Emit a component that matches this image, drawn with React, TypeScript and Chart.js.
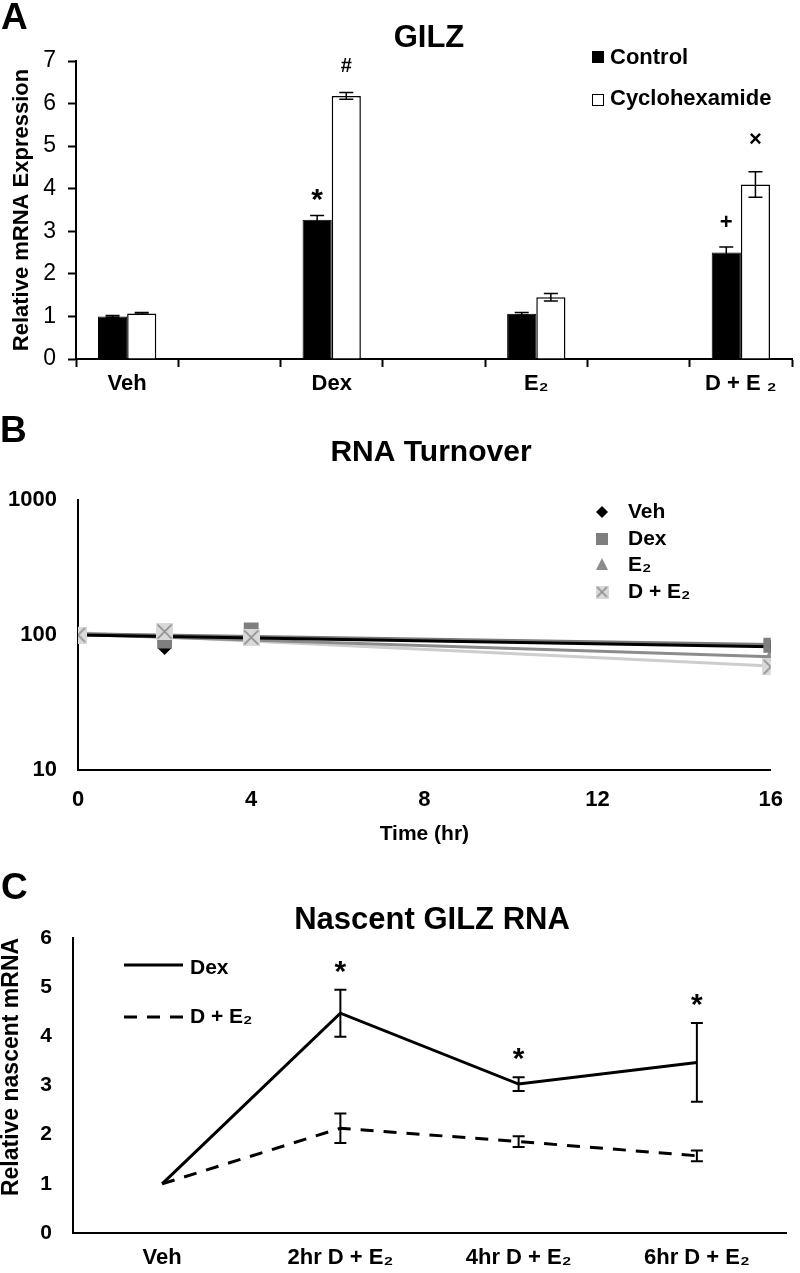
import React, { useEffect, useRef } from 'react';
import { Chart, registerables } from 'chart.js';

Chart.register(...registerables);

const FONT = '"Liberation Sans", Arial, Helvetica, sans-serif';
Chart.defaults.font.family = FONT;
Chart.defaults.color = '#000';

// ---------------- Panel A: GILZ ----------------
const gilzCategories = ['Veh', '', 'Dex', '', 'E₂', '', 'D + E ₂'];
const gilzSeriesNames = ['Control', 'Cyclohexamide'];
const gilzControl = [1.0, null, 3.27, null, 1.06, null, 2.5];
const gilzControlErr = [0.02, null, 0.1, null, 0.03, null, 0.13];
const gilzCyclo = [1.07, null, 6.18, null, 1.45, null, 4.1];
const gilzCycloErr = [0.02, null, 0.08, null, 0.09, null, 0.3];
const gilzControlMarks = ['', '', '*', '', '', '', '+'];
const gilzCycloMarks = ['', '', '#', '', '', '', '×'];
const gilzYRange = [0, 7];

// ---------------- Panel B: RNA Turnover ----------------
const turnoverSeriesNames = ['Veh', 'Dex', 'E₂', 'D + E₂'];
const turnoverTimes = [0, 2, 4, 16];
const turnoverVeh = [100, 80, 97, 82];
const turnoverDex = [100, 90, 109, 84];
const turnoverE2 = [100, 97, 98, 68];
const turnoverDE2 = [100, 106, 96, 58];
const fitTimes = [0, 16];
const fitVeh = [100, 82];
const fitDex = [102, 85];
const fitE2 = [101, 69];
const fitDE2 = [104, 59];
const turnoverYTicks = [10, 100, 1000];
const turnoverXRange = [0, 16];

// ---------------- Panel C: Nascent GILZ RNA ----------------
const nascentCategories = ['Veh', '2hr D + E₂', '4hr D + E₂', '6hr D + E₂'];
const nascentSeriesNames = ['Dex', 'D + E₂'];
const nascentDex = [1.0, 4.47, 3.03, 3.47];
const nascentDexErr = [null, 0.48, 0.14, 0.8];
const nascentDE2 = [1.0, 2.13, 1.86, 1.57];
const nascentDE2Err = [null, 0.3, 0.11, 0.11];
const nascentDexMarks = ['', '*', '*', '*'];
const nascentYRange = [0, 6];

// ---------------- helpers ----------------
const f = (size: number, bold = true) => `${bold ? 'bold ' : ''}${size}px ${FONT}`;

function text(ctx: CanvasRenderingContext2D, s: string, x: number, y: number, font: string, align: CanvasTextAlign = 'left', rot = 0) {
  ctx.save();
  ctx.font = font;
  ctx.fillStyle = '#000';
  ctx.textAlign = align;
  ctx.textBaseline = 'middle';
  ctx.translate(x, y);
  if (rot) ctx.rotate(rot);
  ctx.fillText(s, 0, 0);
  ctx.restore();
}

function makeErrorPlugin(capHalf: number, lineWidth: number, both: boolean) {
  return {
    id: 'errorBars',
    afterDatasetsDraw(chart: any) {
      const ctx = chart.ctx;
      const yScale = chart.scales.y;
      chart.data.datasets.forEach((ds: any, di: number) => {
        if (!ds.errors) return;
        const meta = chart.getDatasetMeta(di);
        ctx.save();
        ctx.strokeStyle = '#000';
        ctx.lineWidth = lineWidth;
        meta.data.forEach((el: any, i: number) => {
          const v = ds.data[i];
          const e = ds.errors[i];
          if (v == null || e == null) return;
          const x = el.x;
          const yt = yScale.getPixelForValue(v + e);
          const yb = both ? yScale.getPixelForValue(v - e) : el.y;
          ctx.beginPath();
          ctx.moveTo(x, yt);
          ctx.lineTo(x, yb);
          ctx.moveTo(x - capHalf, yt);
          ctx.lineTo(x + capHalf, yt);
          if (both) {
            ctx.moveTo(x - capHalf, yb);
            ctx.lineTo(x + capHalf, yb);
          }
          ctx.stroke();
        });
        ctx.restore();
      });
    },
  };
}

function makeMarkPlugin(styles: Record<string, { size: number; gap: number }>) {
  return {
    id: 'sigMarks',
    afterDatasetsDraw(chart: any) {
      const ctx = chart.ctx;
      const yScale = chart.scales.y;
      chart.data.datasets.forEach((ds: any, di: number) => {
        if (!ds.marks) return;
        const meta = chart.getDatasetMeta(di);
        meta.data.forEach((el: any, i: number) => {
          const m = ds.marks[i];
          const v = ds.data[i];
          if (!m || v == null) return;
          const e = ds.errors && ds.errors[i] != null ? ds.errors[i] : 0;
          const st = styles[m];
          const y = yScale.getPixelForValue(v + e) - st.gap;
          text(ctx, m, el.x, y, f(st.size), 'center');
        });
      });
    },
  };
}

function makeXBox(size: number) {
  const c = document.createElement('canvas');
  c.width = size;
  c.height = size;
  const g = c.getContext('2d')!;
  g.fillStyle = '#d9d9d9';
  g.fillRect(0, 0, size, size);
  g.strokeStyle = '#8a8a8a';
  g.lineWidth = 1.6;
  g.beginPath();
  g.moveTo(1.5, 1.5);
  g.lineTo(size - 1.5, size - 1.5);
  g.moveTo(size - 1.5, 1.5);
  g.lineTo(1.5, size - 1.5);
  g.stroke();
  return c;
}

// ---------------- Chart configs ----------------
function makeA(): any {
  const overlay = {
    id: 'overlayA',
    afterDraw(chart: any) {
      const ctx = chart.ctx;
      text(ctx, 'A', 1, 19, f(37));
      text(ctx, 'GILZ', 429, 38, f(31), 'center');
      ctx.save();
      ctx.fillStyle = '#000';
      ctx.fillRect(592, 51, 12, 12);
      ctx.strokeStyle = '#000';
      ctx.lineWidth = 1;
      ctx.strokeRect(592.5, 94.5, 11, 11);
      ctx.restore();
      text(ctx, gilzSeriesNames[0], 610, 58, f(22));
      text(ctx, gilzSeriesNames[1], 610, 99, f(22));
    },
  };
  return {
    type: 'bar',
    data: {
      labels: gilzCategories,
      datasets: [
        {
          label: gilzSeriesNames[0],
          data: gilzControl,
          errors: gilzControlErr,
          marks: gilzControlMarks,
          backgroundColor: '#000',
          borderColor: '#000',
          borderWidth: 1,
          categoryPercentage: 0.57,
          barPercentage: 1,
        },
        {
          label: gilzSeriesNames[1],
          data: gilzCyclo,
          errors: gilzCycloErr,
          marks: gilzCycloMarks,
          backgroundColor: '#fff',
          borderColor: '#000',
          borderWidth: 1.5,
          categoryPercentage: 0.57,
          barPercentage: 1,
        },
      ],
    },
    options: {
      responsive: false,
      animation: false,
      devicePixelRatio: 1,
      layout: { padding: { left: 0, right: 8, top: 61, bottom: 0 } },
      plugins: { legend: { display: false }, tooltip: { enabled: false }, title: { display: false } },
      scales: {
        x: {
          grid: { display: true, drawOnChartArea: false, drawTicks: true, tickLength: 8, tickColor: '#000', tickWidth: 2, offset: true },
          border: { display: true, color: '#000', width: 2 },
          ticks: { color: '#000', font: { size: 22, weight: 'bold' }, padding: 4, autoSkip: false, maxRotation: 0 },
          afterFit: (s: any) => { s.height = 51; },
        },
        y: {
          min: gilzYRange[0],
          max: gilzYRange[1],
          grid: { display: true, drawOnChartArea: false, drawTicks: true, tickLength: 8, tickColor: '#000', tickWidth: 2 },
          border: { display: true, color: '#000', width: 2 },
          ticks: { stepSize: 1, color: '#000', font: { size: 23, weight: 'normal' }, padding: 12 },
          title: { display: true, text: 'Relative mRNA Expression', color: '#000', font: { size: 22, weight: 'bold' }, padding: { top: 9, bottom: 0 } },
          afterFit: (s: any) => { s.width = 76; },
        },
      },
    },
    plugins: [
      makeErrorPlugin(7, 1.5, true),
      makeMarkPlugin({ '*': { size: 30, gap: 15 }, '#': { size: 20, gap: 26 }, '+': { size: 22, gap: 24 }, '×': { size: 22, gap: 32 } }),
      overlay,
    ],
  };
}

function makeB(): any {
  const xbox = makeXBox(17);
  const xboxSmall = makeXBox(13);
  const pts = (vals: number[], ts: number[]) => ts.map((t, i) => ({ x: t, y: vals[i] }));
  const drawMarker = (ctx: CanvasRenderingContext2D, kind: string, x: number, y: number) => {
    ctx.save();
    if (kind === 'diamond') {
      ctx.fillStyle = '#000';
      ctx.beginPath();
      ctx.moveTo(x - 6, y); ctx.lineTo(x, y - 6); ctx.lineTo(x + 6, y); ctx.lineTo(x, y + 6);
      ctx.closePath(); ctx.fill();
    } else if (kind === 'square') {
      ctx.fillStyle = '#7f7f7f';
      ctx.fillRect(x - 6, y - 6, 12, 12);
    } else if (kind === 'triangle') {
      ctx.fillStyle = '#8c8c8c';
      ctx.beginPath();
      ctx.moveTo(x - 6, y + 5); ctx.lineTo(x, y - 7); ctx.lineTo(x + 6, y + 5);
      ctx.closePath(); ctx.fill();
    } else {
      ctx.drawImage(xboxSmall, x - 6.5, y - 6.5);
    }
    ctx.restore();
  };
  const overlay = {
    id: 'overlayB',
    afterDraw(chart: any) {
      const ctx = chart.ctx;
      text(ctx, 'B', 0, 22, f(37));
      text(ctx, 'RNA Turnover', 431, 43, f(30), 'center');
      const kinds = ['diamond', 'square', 'triangle', 'xbox'];
      const rows = [102, 129, 155, 182];
      turnoverSeriesNames.forEach((n, i) => {
        drawMarker(ctx, kinds[i], 602, rows[i]);
        text(ctx, n, 628, rows[i], f(21));
      });
    },
  };
  const fitLine = (label: string, vals: number[], color: string) => ({
    label, data: pts(vals, fitTimes), showLine: true, borderColor: color, borderWidth: 3, pointRadius: 0, fill: false,
  });
  return {
    type: 'scatter',
    data: {
      datasets: [
        { label: turnoverSeriesNames[3], data: pts(turnoverDE2, turnoverTimes), pointStyle: xbox, pointRadius: 9, showLine: false },
        { label: turnoverSeriesNames[1], data: pts(turnoverDex, turnoverTimes), pointStyle: 'rect', pointRadius: 10.5, backgroundColor: '#7f7f7f', borderWidth: 0, showLine: false },
        { label: turnoverSeriesNames[2], data: pts(turnoverE2, turnoverTimes), pointStyle: 'triangle', pointRadius: 9, backgroundColor: '#8c8c8c', borderWidth: 0, showLine: false },
        { label: turnoverSeriesNames[0], data: pts(turnoverVeh, turnoverTimes), pointStyle: 'rectRot', pointRadius: 7, backgroundColor: '#000', borderWidth: 0, showLine: false },
        fitLine('Veh fit', fitVeh, '#000'),
        fitLine('Dex fit', fitDex, '#7a7a7a'),
        fitLine('E2 fit', fitE2, '#8c8c8c'),
        fitLine('D+E2 fit', fitDE2, '#cdcdcd'),
      ],
    },
    options: {
      responsive: false,
      animation: false,
      devicePixelRatio: 1,
      layout: { padding: { left: 0, right: 12, top: 90, bottom: 0 } },
      plugins: { legend: { display: false }, tooltip: { enabled: false } },
      scales: {
        x: {
          type: 'linear',
          min: turnoverXRange[0],
          max: turnoverXRange[1],
          grid: { display: true, drawOnChartArea: false, drawTicks: false },
          border: { display: true, color: '#000', width: 2 },
          ticks: { stepSize: 4, color: '#000', font: { size: 22, weight: 'bold' }, padding: 17 },
          title: { display: true, text: 'Time (hr)', color: '#000', font: { size: 21, weight: 'bold' }, padding: { top: 0, bottom: 13 } },
          afterFit: (s: any) => { s.height = 90; },
        },
        y: {
          type: 'logarithmic',
          min: turnoverYTicks[0],
          max: turnoverYTicks[turnoverYTicks.length - 1],
          grid: { display: true, drawOnChartArea: false, drawTicks: false },
          border: { display: true, color: '#000', width: 2 },
          afterBuildTicks: (s: any) => { s.ticks = turnoverYTicks.map((v) => ({ value: v })); },
          ticks: { color: '#000', font: { size: 22, weight: 'bold' }, padding: 21, callback: (v: any) => String(v) },
          afterFit: (s: any) => { s.width = 78; },
        },
      },
    },
    plugins: [overlay],
  };
}

function makeC(): any {
  const overlay = {
    id: 'overlayC',
    afterDraw(chart: any) {
      const ctx = chart.ctx;
      text(ctx, 'C', 1, 29, f(37));
      text(ctx, 'Nascent GILZ RNA', 432, 60, f(31), 'center');
      ctx.save();
      ctx.strokeStyle = '#000';
      ctx.lineWidth = 3;
      ctx.beginPath();
      ctx.moveTo(124, 105); ctx.lineTo(183, 105);
      ctx.stroke();
      ctx.setLineDash([13, 10]);
      ctx.beginPath();
      ctx.moveTo(124, 157); ctx.lineTo(183, 157);
      ctx.stroke();
      ctx.restore();
      text(ctx, nascentSeriesNames[0], 190, 108, f(21));
      text(ctx, nascentSeriesNames[1], 190, 157, f(21));
      text(ctx, 'Relative nascent mRNA', 12, 207, f(23), 'center', -Math.PI / 2);
    },
  };
  return {
    type: 'line',
    data: {
      labels: nascentCategories,
      datasets: [
        { label: nascentSeriesNames[0], data: nascentDex, errors: nascentDexErr, marks: nascentDexMarks, borderColor: '#000', borderWidth: 3, pointRadius: 0, tension: 0, fill: false },
        { label: nascentSeriesNames[1], data: nascentDE2, errors: nascentDE2Err, borderColor: '#000', borderWidth: 3, borderDash: [13, 10], pointRadius: 0, tension: 0, fill: false },
      ],
    },
    options: {
      responsive: false,
      animation: false,
      devicePixelRatio: 1,
      layout: { padding: { left: 0, right: 14, top: 78, bottom: 0 } },
      plugins: { legend: { display: false }, tooltip: { enabled: false } },
      scales: {
        x: {
          offset: true,
          grid: { display: true, drawOnChartArea: false, drawTicks: false, offset: true },
          border: { display: true, color: '#000', width: 2 },
          ticks: { color: '#000', font: { size: 22, weight: 'bold' }, padding: 12, autoSkip: false, maxRotation: 0 },
          afterFit: (s: any) => { s.height = 40; },
        },
        y: {
          min: nascentYRange[0],
          max: nascentYRange[1],
          grid: { display: true, drawOnChartArea: false, drawTicks: false },
          border: { display: true, color: '#000', width: 2 },
          ticks: { stepSize: 1, color: '#000', font: { size: 21, weight: 'bold' }, padding: 21 },
          afterFit: (s: any) => { s.width = 73; },
        },
      },
    },
    plugins: [makeErrorPlugin(6, 2, true), makeMarkPlugin({ '*': { size: 30, gap: 17 } }), overlay],
  };
}

function Panel({ top, height, make }: { top: number; height: number; make: () => any }) {
  const ref = useRef<HTMLCanvasElement>(null);
  useEffect(() => {
    const chart = new Chart(ref.current as HTMLCanvasElement, make());
    return () => chart.destroy();
  }, []);
  return (
    <canvas
      ref={ref}
      width={800}
      height={height}
      style={{ position: 'absolute', left: 0, top, width: 800, height, display: 'block' }}
    />
  );
}

export default function App() {
  return (
    <div style={{ position: 'absolute', left: 0, top: 0, width: 800, height: 1273, background: '#fff' }}>
      <Panel top={0} height={410} make={makeA} />
      <Panel top={410} height={450} make={makeB} />
      <Panel top={860} height={413} make={makeC} />
    </div>
  );
}
